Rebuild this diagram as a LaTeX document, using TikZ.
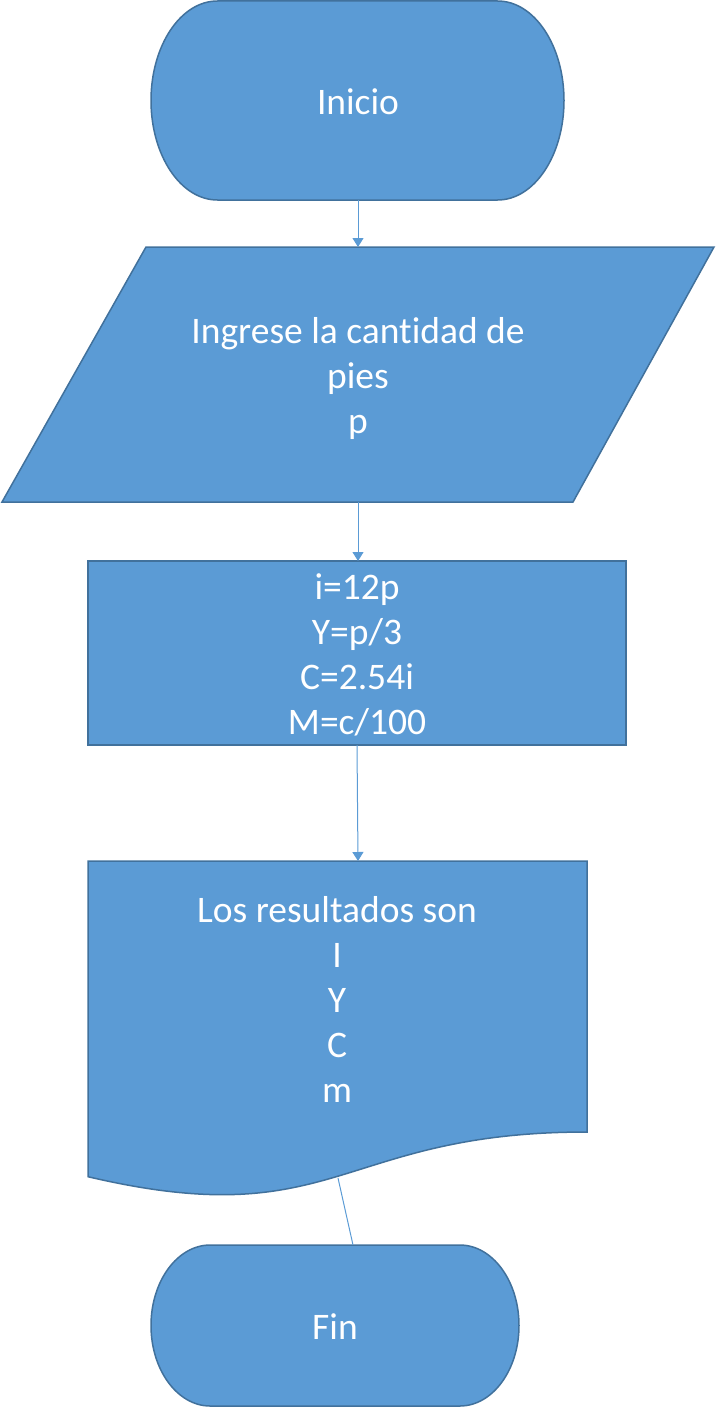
\documentclass[tikz,border=0pt]{standalone}
\usepackage{fontspec}
\setmainfont{Carlito}[Ligatures={NoCommon}]
\usetikzlibrary{arrows.meta}
\definecolor{fillblue}{HTML}{5B9BD5}
\definecolor{edgeblue}{HTML}{41719C}
\begin{document}
\begin{tikzpicture}[x=1pt,y=-1pt,
 shapefill/.style={fill=fillblue,draw=edgeblue,line width=1.5pt},
 txt/.style={text=white,font=\fontsize{37.5}{45}\selectfont,align=center,inner sep=0pt},
 conn/.style={draw=fillblue,line width=1pt,-{Triangle[width=11pt,length=9pt]}},
 plainline/.style={draw=fillblue,line width=1pt}]
\useasboundingbox (0,0) rectangle (716,1407);
% shapes
\draw[shapefill] (217.4,1) -- (497.6,1) arc[start angle=-90,end angle=90,x radius=66.4,y radius=99.5] -- (217.4,200) arc[start angle=90,end angle=270,x radius=66.4,y radius=99.5] -- cycle;
\draw[shapefill] (146,247) -- (714,247) -- (573,502) -- (2,502) -- cycle;
\draw[shapefill] (88,561) rectangle (626,745);
\draw[shapefill] (88,861) -- (587,861) -- (587,1132) .. controls (337.5,1132) and (337.5,1235.3) .. (88,1176.7) -- cycle;
\draw[shapefill] (210.2,1245) -- (459.8,1245) arc[start angle=-90,end angle=90,x radius=59.2,y radius=80.5] -- (210.2,1406) arc[start angle=90,end angle=270,x radius=59.2,y radius=80.5] -- cycle;
% texts
\node[txt] (inicio) at (358,102) {Inicio};
\node[txt] (entrada) at (358,378) {Ingrese la cantidad de\\pies\\p};
\node[txt] (proceso) at (357,655) {i=12p\\Y=p/3\\C=2.54i\\M=c/100};
\node[txt] (salida) at (337,999) {Los resultados son\\I\\Y\\C\\m};
\node[txt] (fin) at (335,1327) {Fin};
% connector ends
\coordinate (inicioB) at (358,200);
\coordinate (entradaT) at (358,247);
\coordinate (entradaB) at (358,502);
\coordinate (procesoT) at (358,561);
\coordinate (procesoB) at (357,745);
\coordinate (salidaT) at (358,861);
\coordinate (salidaB) at (338,1178);
\coordinate (finT) at (353,1245);
\draw[conn] (inicioB) -- (entradaT);
\draw[conn] (entradaB) -- (procesoT);
\draw[conn] (procesoB) -- (salidaT);
\draw[plainline] (salidaB) -- (finT);
\end{tikzpicture}
\end{document}
